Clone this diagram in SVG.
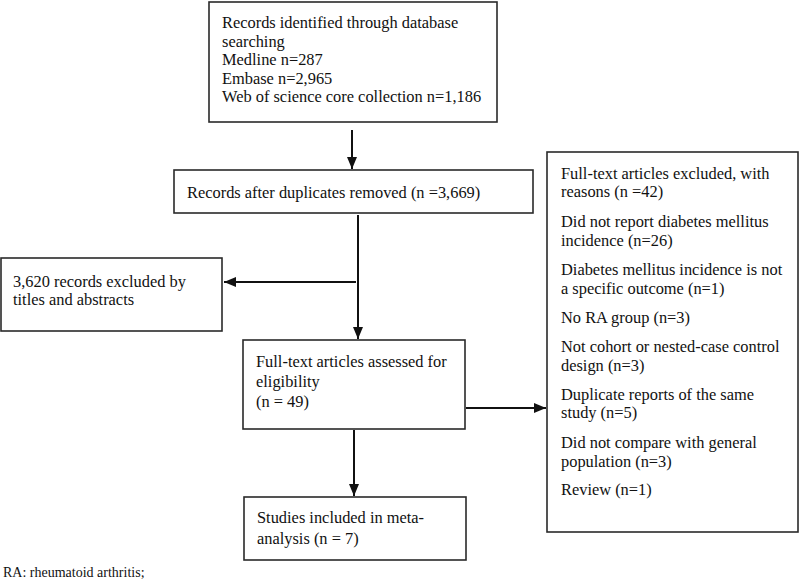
<svg xmlns="http://www.w3.org/2000/svg" width="800" height="581" viewBox="0 0 800 581">
<style>
.box{fill:#fff;stroke:#2a2a2a;stroke-width:1.6}
.t{font-family:"Liberation Serif","Times New Roman",serif;font-size:16.4px;fill:#111}
.f{font-family:"Liberation Serif","Times New Roman",serif;font-size:14px;fill:#111}
.c{stroke:#111;stroke-width:2;fill:none;marker-end:url(#ah)}
</style>
<defs>
<marker id="ah" markerUnits="userSpaceOnUse" markerWidth="12" markerHeight="10" viewBox="0 0 12 10" refX="12" refY="5" orient="auto">
<path d="M0,0 L12,5 L0,10 Z" fill="#111"/>
</marker>
</defs>
<rect width="800" height="581" fill="#fff"/>
<g id="connectors">
<line class="c" x1="352" y1="130" x2="352" y2="169"/>
<line class="c" x1="358" y1="215" x2="358" y2="339"/>
<line class="c" x1="356" y1="282" x2="224" y2="282"/>
<line class="c" x1="354" y1="430" x2="354" y2="496"/>
<line class="c" x1="466" y1="408" x2="546" y2="408"/>
</g>
<g id="records-identified">
<rect class="box" x="209" y="2" width="288" height="120"/>
<text class="t" x="222" y="28">Records identified through database</text>
<text class="t" x="222" y="47">searching</text>
<text class="t" x="222" y="65">Medline n=287</text>
<text class="t" x="222" y="84">Embase n=2,965</text>
<text class="t" x="222" y="102">Web of science core collection n=1,186</text>
</g>
<g id="after-duplicates">
<rect class="box" x="174" y="170" width="359" height="43"/>
<text class="t" x="187" y="198">Records after duplicates removed (n =3,669)</text>
</g>
<g id="excluded-titles">
<rect class="box" x="1" y="258" width="221" height="73"/>
<text class="t" x="13" y="287">3,620 records excluded by</text>
<text class="t" x="13" y="305">titles and abstracts</text>
</g>
<g id="full-text-assessed">
<rect class="box" x="243" y="340" width="222" height="89"/>
<text class="t" x="256" y="367">Full-text articles assessed for</text>
<text class="t" x="256" y="387">eligibility</text>
<text class="t" x="256" y="407">(n = 49)</text>
</g>
<g id="studies-included">
<rect class="box" x="244" y="497" width="222" height="63"/>
<text class="t" x="257" y="523">Studies included in meta-</text>
<text class="t" x="257" y="544">analysis (n = 7)</text>
</g>
<g id="full-text-excluded">
<rect class="box" x="547" y="152" width="251" height="380"/>
<text class="t" x="561" y="179">Full-text articles excluded, with</text>
<text class="t" x="561" y="197">reasons (n =42)</text>
<text class="t" x="561" y="227">Did not report diabetes mellitus</text>
<text class="t" x="561" y="246">incidence (n=26)</text>
<text class="t" x="561" y="275">Diabetes mellitus incidence is not</text>
<text class="t" x="561" y="294">a specific outcome (n=1)</text>
<text class="t" x="561" y="323">No RA group (n=3)</text>
<text class="t" x="561" y="352">Not cohort or nested-case control</text>
<text class="t" x="561" y="371">design (n=3)</text>
<text class="t" x="561" y="400">Duplicate reports of the same</text>
<text class="t" x="561" y="418">study (n=5)</text>
<text class="t" x="561" y="448">Did not compare with general</text>
<text class="t" x="561" y="467">population (n=3)</text>
<text class="t" x="561" y="495">Review (n=1)</text>
</g>
<text class="f" x="3" y="577">RA: rheumatoid arthritis;</text>
</svg>
